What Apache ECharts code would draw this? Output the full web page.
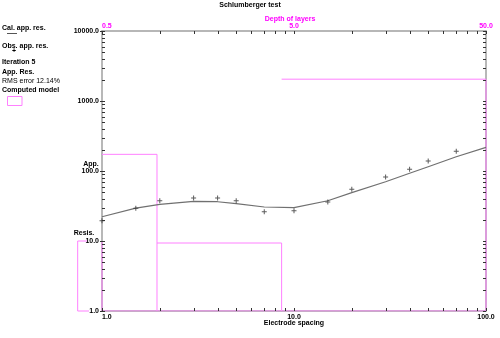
<!DOCTYPE html>
<html><head><meta charset="utf-8">
<script src="https://cdn.jsdelivr.net/npm/echarts@6/dist/echarts.min.js"></script>
<style>html,body{margin:0;padding:0;background:#fff}#c{width:500px;height:338px}</style>
</head><body><div id="c"></div>
<script>
// ---- data ----
const obsSpacing = [1, 1.5, 2, 3, 4, 5, 7, 10, 15, 20, 30, 40, 50, 70];
const observed   = [19.5, 29.3, 37.7, 41, 41, 37.7, 26.2, 27.1, 36.1, 54.8, 82, 106, 139, 191];
const calcSpacing = [1, 1.5, 2, 3, 4, 5, 7, 10, 15, 20, 30, 40, 50, 70, 100];
const calculated  = [22.2, 29.5, 33.4, 36.9, 36.4, 34.1, 30.6, 30.0, 37.6, 49.0, 70.3, 92.7, 115, 160, 218];
const layerTop    = [0.5, 0.967, 4.31];
const layerBottom = [0.967, 4.31, 50];
const layerRes    = [173, 9.36, 2050];
const frameDepth  = [0.3735, 0.5];   // extra model box at left edge
const frameRes    = [1, 10];
const spacingLabels = [1, 10, 100];
const depthLabels   = [0.5, 5, 50];
const resLabels     = [1, 10, 100, 1000, 10000];

// ---- helpers ----
function logTicks(lo, hi) {
  const out = [];
  for (let d = lo; d < hi; d *= 10) for (let k = 1; k < 10; k++) out.push(d * k);
  out.push(hi);
  return out;
}
const gray = '#a0a0a0';
const pink = '#ff80ff';
const magenta = '#ff00ff';
const tickColor = '#333';
const FONT = 'Liberation Sans, Arial, sans-serif';
const lab = (extra) => Object.assign({fontSize: 7, fontWeight: 'bold', fontFamily: FONT, color: '#000',
  formatter: v => Number(v).toFixed(1)}, extra);

const modelSegs = [];
for (let i = 0; i < layerRes.length; i++) {
  modelSegs.push([[layerTop[i], layerRes[i]], [layerBottom[i], layerRes[i]], [layerBottom[i], frameRes[0]]]);
}
modelSegs.push([[layerBottom[layerBottom.length - 1], frameRes[0]], [layerTop[0], frameRes[0]], [layerTop[0], frameRes[1]]]);
const bracket = [[frameDepth[1], frameRes[1]], [frameDepth[0], frameRes[1]], [frameDepth[0], frameRes[0]], [frameDepth[1], frameRes[0]]];

const plus = 'path://M2,0L3,0L3,2L5,2L5,3L3,3L3,5L2,5L2,3L0,3L0,2L2,2Z';

const chart = echarts.init(document.getElementById('c'), null, {renderer: 'canvas'});
const txt = (t, x, y, align, color, weight) => ({type: 'text', z: 100, style: {text: t, x: x, y: y,
  textAlign: align || 'left', textVerticalAlign: 'middle', fill: color || '#000',
  font: (weight || 'bold') + ' 7px ' + FONT}});

chart.setOption({
  animation: false,
  backgroundColor: '#fff',
  grid: {left: 102, right: 14, top: 31, bottom: 27, containLabel: false},
  xAxis: [
    {type: 'log', min: 1, max: 100, position: 'bottom',
     axisLine: {lineStyle: {color: gray, width: 1.5}},
     axisTick: {show: false},
     axisLabel: lab({customValues: spacingLabels, margin: 3, alignMinLabel: 'left'}),
     splitLine: {show: false}},
    {type: 'log', min: 0.5, max: 50, position: 'top',
     axisLine: {lineStyle: {color: gray, width: 1.5}},
     axisTick: {show: false},
     axisLabel: lab({customValues: depthLabels, margin: 1, color: magenta, alignMinLabel: 'left'}),
     splitLine: {show: false}}
  ],
  yAxis: [
    {type: 'log', min: 1, max: 10000, position: 'left',
     axisLine: {lineStyle: {color: gray, width: 1.5}},
     axisTick: {show: false},
     axisLabel: lab({customValues: resLabels, margin: 3}),
     splitLine: {show: false}},
    {type: 'log', min: 1, max: 10000, position: 'right',
     axisLine: {lineStyle: {color: gray, width: 1.5}},
     axisTick: {show: false},
     axisLabel: {show: false},
     splitLine: {show: false}}
  ],
  series: [
    ...modelSegs.map(seg => ({type: 'line', xAxisIndex: 1, yAxisIndex: 0, data: seg, symbol: 'none',
      z: 1, lineStyle: {color: pink, width: 1}, silent: true})),
    {type: 'line', xAxisIndex: 0, yAxisIndex: 0, data: calcSpacing.map((s, i) => [s, calculated[i]]),
     symbol: 'none', lineStyle: {color: '#707070', width: 1.2}, z: 2},
    {type: 'scatter', xAxisIndex: 0, yAxisIndex: 0, data: obsSpacing.map((s, i) => [s, observed[i]]),
     symbol: plus, symbolSize: 5, itemStyle: {color: '#333'}, z: 4}
  ]
});

// plot frame in pixels, from the axes' scales
const px = (v) => chart.convertToPixel({xAxisIndex: 0}, v);
const py = (v) => chart.convertToPixel({yAxisIndex: 0}, v);
const L = px(1), R = px(100), B = py(1), T = py(10000);

const ticks = [];
const seg = (x1, y1, x2, y2) => ticks.push({type: 'line', z: 50, silent: true,
  shape: {x1: x1, y1: y1, x2: x2, y2: y2}, style: {stroke: tickColor, lineWidth: 1}});
logTicks(1, 100).forEach(v => {
  const x = Math.round(px(v)) + 0.5;
  seg(x, B - 3, x, B);
  seg(x, T, x, T + 3);
});
logTicks(1, 10000).forEach(v => {
  const y = Math.round(py(v)) + 0.5;
  seg(L, y, L + 3, y);
  seg(R - 3, y, R, y);
});
resLabels.forEach(v => {
  const y = Math.round(py(v)) + 0.5;
  seg(L - 2, y, L, y);
});

// left model box drawn through the axes' own scales (it lies outside the plot area)
const bpts = bracket.map(p => chart.convertToPixel({xAxisIndex: 1, yAxisIndex: 0}, p));
const labelGap = 15; // width hidden behind the "10.0"/"1.0" labels
const bracketShape = [[bpts[0][0] - labelGap, bpts[0][1]], bpts[1], bpts[2], [bpts[3][0] - labelGap + 2, bpts[3][1]]];

chart.setOption({
  graphic: [
    ...ticks,
    {type: 'polyline', shape: {points: bracketShape}, style: {stroke: pink, lineWidth: 1, fill: null}},
    txt('Schlumberger test', 250, 5, 'center'),
    txt('Depth of layers', 290, 19.5, 'center', magenta),
    txt('Electrode spacing', 294, 323.5, 'center'),
    txt('App.', 91, 164, 'center'),
    txt('Resis.', 84, 233, 'center'),
    txt('Cal. app. res.', 2, 28.5),
    {type: 'line', shape: {x1: 7, y1: 33.5, x2: 17, y2: 33.5}, style: {stroke: '#555', lineWidth: 1}},
    txt('Obs. app. res.', 2, 46),
    txt('+', 14, 51.5, 'center'),
    txt('Iteration 5', 2, 62.5),
    txt('App. Res.', 2, 72),
    txt('RMS error 12.14%', 2, 81, 'left', '#000', 'normal'),
    txt('Computed model', 2, 90),
    {type: 'rect', shape: {x: 7.5, y: 96.5, width: 14.5, height: 9}, style: {fill: 'none', stroke: pink, lineWidth: 1}}
  ]
});
</script></body></html>
